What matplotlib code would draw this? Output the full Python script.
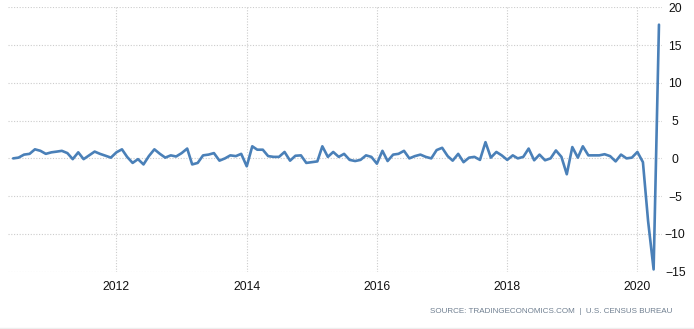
import matplotlib
matplotlib.use("Agg")
import matplotlib.pyplot as plt
import matplotlib.dates as mdates
from matplotlib.lines import Line2D
import pandas as pd

plt.rcParams['font.family'] = ['Liberation Sans', 'DejaVu Sans']

# Monthly US retail sales MoM change (%), Jun 2010 - May 2020
start_month = "2010-06-01"
values = [
    0.0, 0.1, 0.5, 0.6, 1.2, 1.0, 0.6, 0.8, 0.9, 1.0,
    0.7, -0.1, 0.8, -0.1, 0.4, 0.9, 0.6, 0.35, 0.1, 0.8,
    1.2, 0.2, -0.6, -0.1, -0.8, 0.3, 1.2, 0.6, 0.1, 0.4,
    0.25, 0.7, 1.3, -0.8, -0.6, 0.4, 0.5, 0.7, -0.3, 0.0,
    0.4, 0.3, 0.6, -1.05, 1.6, 1.15, 1.15, 0.3, 0.2, 0.2,
    0.85, -0.3, 0.35, 0.4, -0.6, -0.5, -0.4, 1.6, 0.2, 0.85,
    0.2, 0.6, -0.2, -0.35, -0.2, 0.4, 0.2, -0.7, 1.0, -0.35,
    0.5, 0.6, 1.0, 0.0, 0.3, 0.5, 0.2, 0.0, 1.1, 1.4,
    0.3, -0.3, 0.6, -0.5, 0.1, 0.2, -0.2, 2.15, 0.1, 0.85,
    0.4, -0.2, 0.4, 0.0, 0.2, 1.3, -0.25, 0.5, -0.25, 0.0,
    1.05, 0.2, -2.1, 1.5, 0.1, 1.6, 0.4, 0.4, 0.4, 0.55,
    0.3, -0.4, 0.5, 0.0, 0.1, 0.85, -0.5, -8.3, -14.7, 17.7,
]
dates = pd.date_range(start_month, periods=len(values), freq="MS")

year_ticks = [2012, 2014, 2016, 2018, 2020]
y_ticks = [-15, -10, -5, 0, 5, 10, 15, 20]
source_text = "SOURCE: TRADINGECONOMICS.COM  |  U.S. CENSUS BUREAU"

fig = plt.figure(figsize=(6.94, 3.29), dpi=100)
ax = fig.add_axes([8 / 694, 1 - 271.7 / 329, (662 - 8) / 694, (271.7 - 7.3) / 329])

ax.plot(dates, values, color="#4a80b8", linewidth=1.9,
        solid_joinstyle="round", solid_capstyle="round", zorder=3)

ax.set_ylim(-15, 20)
ax.set_yticks(y_ticks)
ax.set_xlim(pd.Timestamp("2010-05-03"), pd.Timestamp("2020-05-18"))
ax.set_xticks([pd.Timestamp(f"{y}-01-01") for y in year_ticks])
ax.xaxis.set_major_formatter(mdates.DateFormatter("%Y"))

ax.yaxis.tick_right()
ax.tick_params(axis="both", length=0, labelsize=8.8, colors="#111111")
ax.tick_params(axis="y", pad=9.5)
ax.tick_params(axis="x", pad=6.5)
for lab in ax.get_yticklabels():
    lab.set_horizontalalignment("center")

for s in ax.spines.values():
    s.set_visible(False)

ax.grid(True, which="major", color="#cccccc", linestyle=(0, (1, 1.5)), linewidth=0.8)
ax.set_axisbelow(True)

fig.text(672 / 694, 1 - 311.7 / 329, source_text, ha="right", va="center",
         fontsize=5.8, color="#6f7f90")
fig.add_artist(Line2D([0, 1], [1 - 327.5 / 329] * 2, color="#eeeeee", linewidth=1,
                      transform=fig.transFigure))

fig.savefig("out.png", dpi=100)
